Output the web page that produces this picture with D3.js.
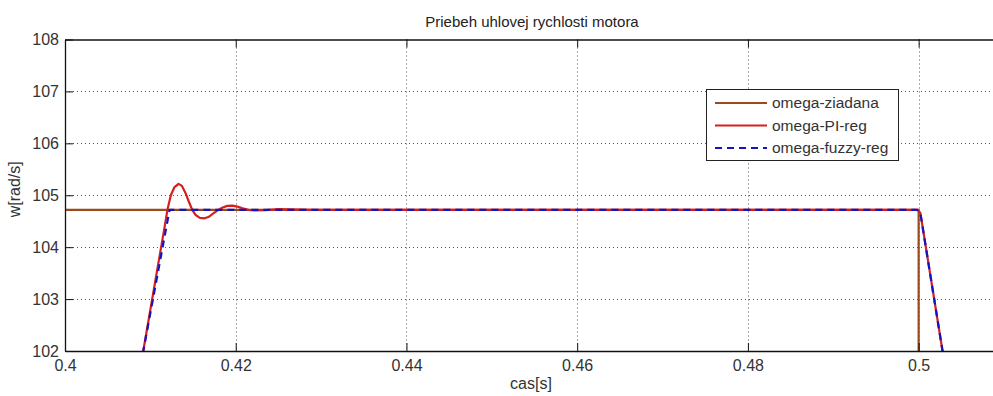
<!DOCTYPE html>
<html>
<head>
<meta charset="utf-8">
<script src="https://cdn.jsdelivr.net/npm/d3@7"></script>
<style>
	body { margin: 0; background: #fff; }
	svg { display: block; font-family: 'Liberation Sans', Arial, sans-serif; }
</style>
</head>
<body>
<svg id="chart"></svg>
<script>
// tick values
const xTicks = [0.4, 0.42, 0.44, 0.46, 0.48, 0.5]
const yTicks = [102, 103, 104, 105, 106, 107, 108]

// omega-ziadana (reference speed)
const refT = [0.4, 0.5, 0.5]
const refW = [104.72, 104.72, 99.0]

// omega-PI-reg
const piT = [0.407, 0.40917, 0.4117, 0.4120, 0.4124, 0.4128, 0.4133, 0.4137, 0.4141, 0.4145, 0.4149, 0.4153, 0.4158, 0.4163, 0.4168, 0.4173, 0.4178, 0.4184, 0.4190, 0.4196, 0.4202, 0.4208, 0.4215, 0.4222, 0.4235, 0.4250, 0.4265, 0.4290, 0.4999, 0.5002, 0.5028, 0.5045]
const piW = [99.9, 102.0, 104.42, 104.72, 105.0, 105.15, 105.22, 105.18, 105.05, 104.88, 104.72, 104.62, 104.565, 104.555, 104.58, 104.64, 104.70, 104.76, 104.795, 104.80, 104.78, 104.75, 104.72, 104.71, 104.715, 104.735, 104.73, 104.72, 104.72, 104.66, 102.0, 100.3]

// omega-fuzzy-reg
const fzT = [0.407, 0.40917, 0.41225, 0.4998, 0.5002, 0.5028, 0.5045]
const fzW = [99.9, 102.0, 104.72, 104.72, 104.66, 102.0, 100.3]

const series = [
	{ name: 'omega-ziadana', t: refT, w: refW, color: '#9a4a1c', dash: null },
	{ name: 'omega-PI-reg', t: piT, w: piW, color: '#d81f1f', dash: null },
	{ name: 'omega-fuzzy-reg', t: fzT, w: fzW, color: '#1414c0', dash: '7,5' }
]

const W = 993, H = 396
const m = { left: 65, top: 39.5, right: 1004, bottom: 351 }

const svg = d3.select('#chart').attr('width', W).attr('height', H)

const x = d3.scaleLinear().domain([0.4, 0.51]).range([m.left, m.right])
const y = d3.scaleLinear().domain([102, 108]).range([m.bottom, m.top])

// grid
const grid = svg.append('g')
	.attr('stroke', '#555')
	.attr('stroke-width', 1)
	.attr('stroke-dasharray', '1,3')
grid.selectAll('.gx').data(xTicks.slice(1)).enter().append('line')
	.attr('x1', d => Math.round(x(d)) + 0.5).attr('x2', d => Math.round(x(d)) + 0.5)
	.attr('y1', m.top).attr('y2', m.bottom)
grid.selectAll('.gy').data(yTicks.slice(1, -1)).enter().append('line')
	.attr('y1', d => Math.round(y(d)) + 0.5).attr('y2', d => Math.round(y(d)) + 0.5)
	.attr('x1', m.left).attr('x2', m.right)

// clip for data
svg.append('clipPath').attr('id', 'clip').append('rect')
	.attr('x', m.left).attr('y', m.top)
	.attr('width', m.right - m.left).attr('height', m.bottom - m.top)

const plot = svg.append('g').attr('clip-path', 'url(#clip)')
const line = d3.line().x(d => x(d[0])).y(d => y(d[1]))
series.forEach(s => {
	const pts = s.t.map((t, i) => [t, s.w[i]])
	plot.append('path')
		.attr('d', line(pts))
		.attr('fill', 'none')
		.attr('stroke', s.color)
		.attr('stroke-width', 2.2)
		.attr('stroke-linejoin', 'round')
		.attr('stroke-dasharray', s.dash)
})

// axes (ticks inside, box)
const tickLen = 8
const axB = svg.append('g').attr('transform', `translate(0,${m.bottom})`)
	.call(d3.axisBottom(x).tickValues(xTicks).tickSizeInner(-tickLen).tickSizeOuter(0).tickPadding(10).tickFormat(d3.format('')))
const axT = svg.append('g').attr('transform', `translate(0,${m.top})`)
	.call(d3.axisTop(x).tickValues(xTicks).tickSizeInner(-tickLen).tickSizeOuter(0).tickFormat(''))
const axL = svg.append('g').attr('transform', `translate(${m.left},0)`)
	.call(d3.axisLeft(y).tickValues(yTicks).tickSizeInner(-tickLen).tickSizeOuter(0).tickPadding(6).tickFormat(d3.format('')))
const axR = svg.append('g').attr('transform', `translate(${m.right},0)`)
	.call(d3.axisRight(y).tickValues(yTicks).tickSizeInner(-tickLen).tickSizeOuter(0).tickFormat(''))

;[axB, axT, axL, axR].forEach(a => {
	a.select('.domain').attr('stroke', '#111').attr('stroke-width', 1.3)
	a.selectAll('.tick line').attr('stroke', '#111')
	a.selectAll('text').attr('font-size', 16).attr('fill', '#333').attr('font-family', null)
})
axB.selectAll('text').attr('dy', '0.62em')

// title and labels
svg.append('text').attr('x', 532).attr('y', 27).attr('text-anchor', 'middle')
	.attr('font-size', 15).attr('fill', '#222').text('Priebeh uhlovej rychlosti motora')
svg.append('text').attr('x', 531).attr('y', 389).attr('text-anchor', 'middle')
	.attr('font-size', 16).attr('fill', '#333').text('cas[s]')
svg.append('text').attr('transform', `translate(20,${(m.top + m.bottom) / 2 - 6}) rotate(-90)`)
	.attr('text-anchor', 'middle').attr('font-size', 16).attr('fill', '#333').text('w[rad/s]')

// legend
const lg = svg.append('g')
lg.append('rect').attr('x', 706.5).attr('y', 89.5).attr('width', 192).attr('height', 71)
	.attr('fill', '#fff').attr('stroke', '#222').attr('stroke-width', 1)
series.forEach((s, i) => {
	const ly = 103 + i * 22.5
	lg.append('line').attr('x1', 715).attr('x2', 767).attr('y1', ly).attr('y2', ly)
		.attr('stroke', s.color).attr('stroke-width', 2.2).attr('stroke-dasharray', s.dash)
	lg.append('text').attr('x', 772).attr('y', ly).attr('dy', '0.35em')
		.attr('font-size', 15.5).attr('fill', '#333').text(s.name)
})
</script>
</body>
</html>
